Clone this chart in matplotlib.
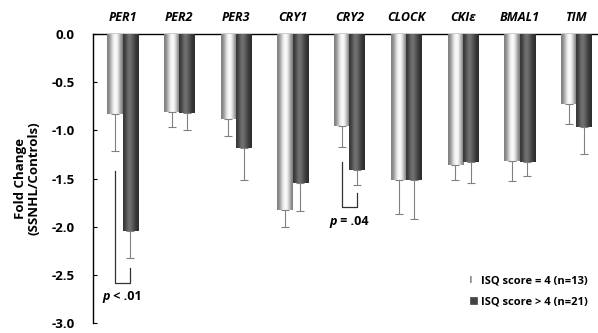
import numpy as np
import matplotlib
matplotlib.use('Agg')
import matplotlib.pyplot as plt
from matplotlib.patches import Patch

genes = ['PER1', 'PER2', 'PER3', 'CRY1', 'CRY2', 'CLOCK', 'CKI\u03b5', 'BMAL1', 'TIM']
isq4 = [-0.83, -0.81, -0.88, -1.83, -0.96, -1.52, -1.36, -1.32, -0.73]
isq4_err = [0.38, 0.16, 0.18, 0.17, 0.21, 0.35, 0.16, 0.21, 0.20]
isq_gt4 = [-2.05, -0.82, -1.18, -1.55, -1.41, -1.52, -1.33, -1.33, -0.97]
isq_gt4_err = [0.28, 0.18, 0.34, 0.29, 0.16, 0.40, 0.22, 0.14, 0.28]
series_labels = ['ISQ score = 4 (n=13)', 'ISQ score > 4 (n=21)']
yticks = [0.0, -0.5, -1.0, -1.5, -2.0, -2.5, -3.0]

plt.rcParams['font.family'] = ['Open Sans', 'DejaVu Sans']
plt.rcParams['font.weight'] = 'bold'
plt.rcParams['hatch.color'] = '#8a8a8a'
plt.rcParams['hatch.linewidth'] = 1.2

fig = plt.figure(figsize=(5.98, 3.33), dpi=100)
ax = fig.add_axes([93 / 598, 10 / 333, 505 / 598, 289 / 333])

x = np.arange(len(genes))
w = 0.27

# cylinder-like gradients
light_grad = np.array([0.5, 0.62, 0.82, 0.96, 1.0, 0.9, 0.7, 0.5])
dark_grad = np.array([0.22, 0.3, 0.42, 0.45, 0.38, 0.3, 0.22, 0.18])

bars1 = ax.bar(x - w / 2, isq4, w, color='#cccccc', zorder=2)
bars2 = ax.bar(x + w / 2, isq_gt4, w, color='#3a3a3a', zorder=2)

for bars, grad in [(bars1, light_grad), (bars2, dark_grad)]:
    img = np.tile(grad, (2, 1))
    for b in bars:
        x0, y0 = b.get_x(), b.get_y()
        bw, bh = b.get_width(), b.get_height()
        im = ax.imshow(img, cmap='gray', vmin=0, vmax=1, aspect='auto',
                       extent=[x0, x0 + bw, y0 + bh, y0], interpolation='bicubic', zorder=3)
        im.set_clip_path(b)

ax.errorbar(x - w / 2, isq4, yerr=[isq4_err, [0] * len(x)], fmt='none',
            ecolor='#808080', elinewidth=0.8, capsize=2.8, capthick=0.8, zorder=4)
ax.errorbar(x + w / 2, isq_gt4, yerr=[isq_gt4_err, [0] * len(x)], fmt='none',
            ecolor='#808080', elinewidth=0.8, capsize=2.8, capthick=0.8, zorder=4)


# significance brackets
def bracket(i, ytop, ybot, yright, label, ytext):
    ax.plot([i - w / 2, i - w / 2, i + w / 2, i + w / 2], [ytop, ybot, ybot, yright],
            color='#333333', lw=0.9, zorder=4)
    p, rest = label.split(' ', 1)
    ax.annotate(p, xy=(i, ytext), ha='right', va='center', fontsize=9,
                fontstyle='italic', fontweight='bold', xytext=(-9, 0),
                textcoords='offset points')
    ax.annotate(' ' + rest, xy=(i, ytext), ha='left', va='center', fontsize=9,
                fontweight='bold', xytext=(-9, 0), textcoords='offset points')


bracket(0, -1.42, -2.58, -2.43, 'p < .01', -2.73)
bracket(4, -1.33, -1.80, -1.65, 'p = .04', -1.95)

ax.set_xlim(-0.52, 8.38)
ax.set_ylim(-3.0, 0.0)
ax.set_yticks(yticks)
ax.set_yticklabels(['%.1f' % v for v in yticks], fontsize=9.5, fontweight='bold')
ax.tick_params(axis='y', direction='in', length=3, pad=13)
ax.set_xticks([])
ax.spines['right'].set_visible(False)
ax.spines['bottom'].set_visible(False)
ax.spines['top'].set_linewidth(1.0)
ax.spines['left'].set_linewidth(1.0)

for i, g in enumerate(genes):
    ax.text(i, 0.1, g, ha='center', va='bottom', fontsize=9, fontstyle='italic',
            fontweight='bold')

ax.set_ylabel('Fold Change\n(SSNHL/Controls)', fontsize=9.5, fontweight='bold',
              labelpad=8, linespacing=1.1)

handles = [Patch(facecolor='white', edgecolor='#8a8a8a', lw=0, hatch='||'),
           Patch(facecolor='#444444', edgecolor='#444444', lw=0.5)]
leg = ax.legend(handles, series_labels, loc='lower right', frameon=False,
                fontsize=8, handlelength=0.6, handleheight=0.6, handletextpad=0.4,
                labelspacing=0.9, bbox_to_anchor=(1.0, 0.02))

fig.savefig('out.png', dpi=100)
